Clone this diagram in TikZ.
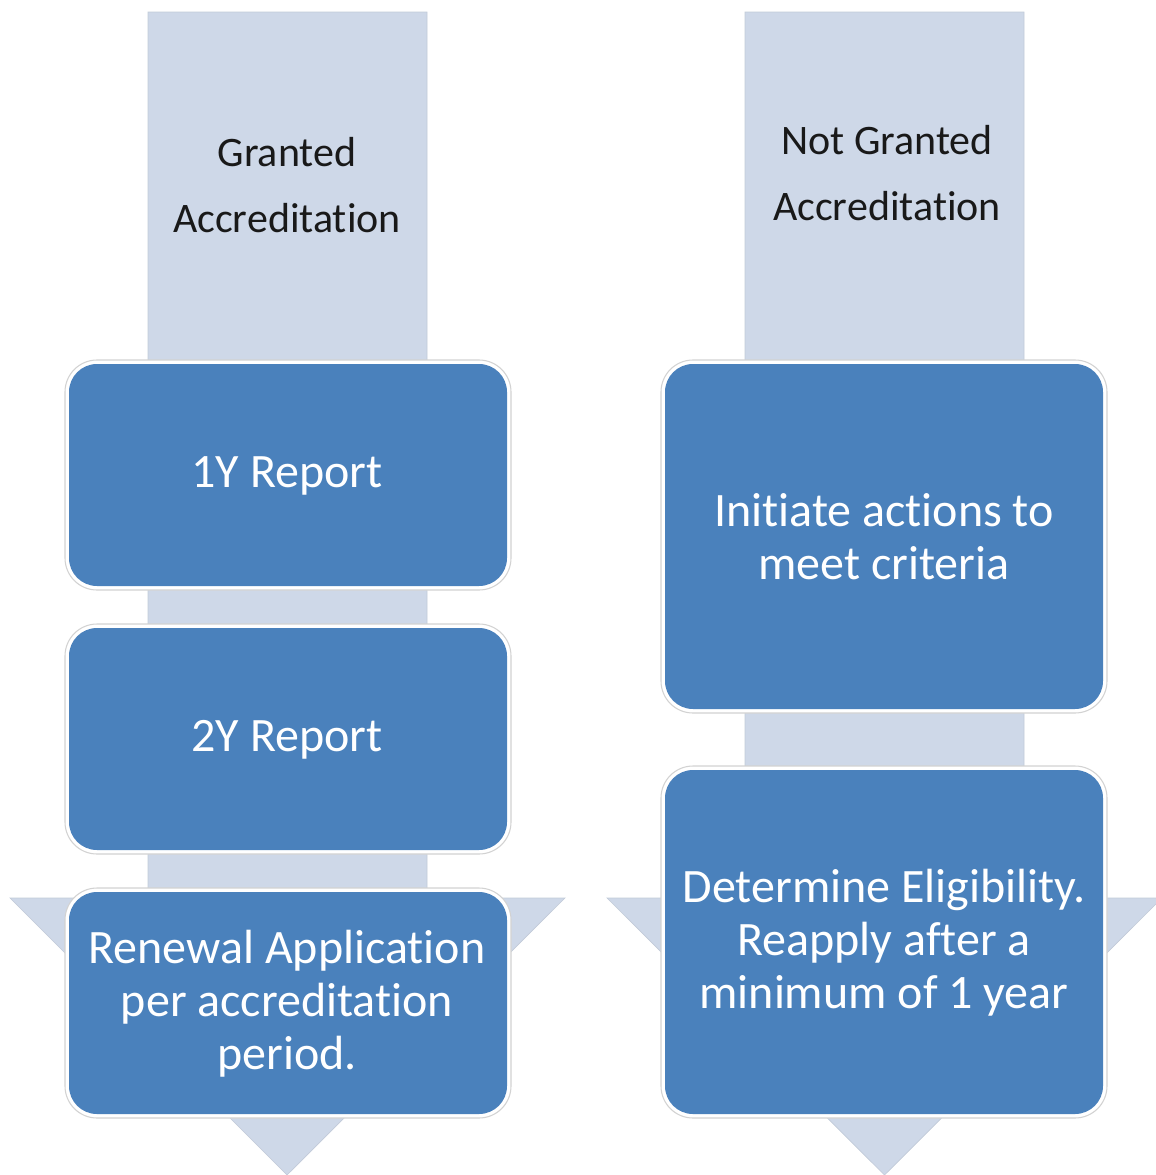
\documentclass[tikz,border=0pt]{standalone}
\usepackage{fontspec}
\setmainfont{Carlito}[Ligatures=NoCommon]
\definecolor{shaft}{HTML}{CED8E8}
\definecolor{boxblue}{HTML}{4A81BC}
\definecolor{rim}{HTML}{D2D2D2}
\begin{document}
\begin{tikzpicture}[x=0.75pt,y=-0.75pt,
  arrowshape/.style={fill=shaft,draw=shaft!85!gray,line width=0.5pt},
  boxouter/.style={fill=white,draw=rim,line width=0.8pt,rounded corners=24pt},
  boxinner/.style={fill=boxblue,rounded corners=21pt},
  boxtext/.style={text=white,align=center,font=\fontsize{36}{39.75}\selectfont},
  titletext/.style={text=black!90,align=center,font=\fontsize{31.5}{49.5}\selectfont}]
\clip (0,0) rectangle (1156,1175);
\useasboundingbox (0,0) rectangle (1156,1175);
% left arrow
\path[arrowshape] (148,12) -- (427,12) -- (427,898) -- (565,898) -- (287,1175) -- (10,898) -- (148,898) -- cycle;
% right arrow
\path[arrowshape] (745,12) -- (1024,12) -- (1024,898) -- (1162,898) -- (884.5,1175) -- (607,898) -- (745,898) -- cycle;
% titles
\node[titletext] (tl) at (287,185) {Granted\\Accreditation};
\node[titletext] (tr) at (887,173) {Not Granted\\Accreditation};
% left boxes
\path[boxouter] (65,360) rectangle (511,590);
\path[boxinner] (69,364) rectangle (507,586);
\node[boxtext] (b1) at (287,476) {1Y Report};
\path[boxouter] (65,624) rectangle (511,854);
\path[boxinner] (69,628) rectangle (507,850);
\node[boxtext] (b2) at (287,740) {2Y Report};
\path[boxouter] (65,888) rectangle (511,1118);
\path[boxinner] (69,892) rectangle (507,1114);
\node[boxtext] (b3) at (287,1004) {Renewal Application\\per accreditation\\period.};
% right boxes
\path[boxouter] (661,360) rectangle (1107,713);
\path[boxinner] (665,364) rectangle (1103,709);
\node[boxtext] (r1) at (884,537) {Initiate actions to\\meet criteria};
\path[boxouter] (661,766) rectangle (1107,1118);
\path[boxinner] (665,770) rectangle (1103,1114);
\node[boxtext] (r2) at (884,943) {Determine Eligibility.\\Reapply after a\\minimum of 1 year};
\end{tikzpicture}
\end{document}
